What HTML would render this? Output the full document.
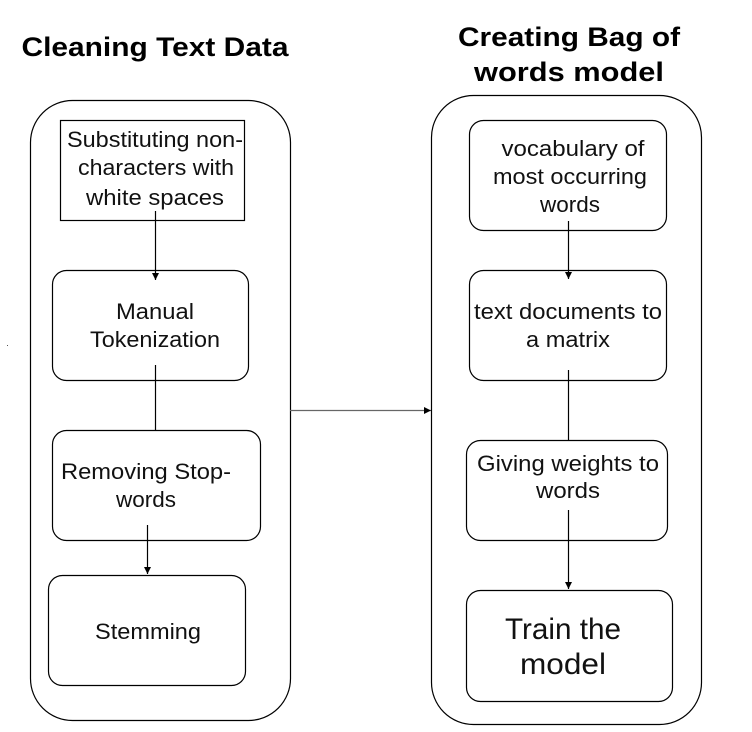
<!DOCTYPE html>
<html><head><style>body{margin:0;background:#fff} svg text{font-family:"Liberation Sans",Arial,sans-serif}</style></head><body>
<svg width="752" height="727" xmlns="http://www.w3.org/2000/svg">
<defs><marker id="a" markerWidth="8" markerHeight="8" refX="7" refY="4" orient="auto" markerUnits="userSpaceOnUse"><path d="M0,0.5 L7,4 L0,7.5 Z" fill="#000"/></marker></defs>
<rect width="752" height="727" fill="#fff"/>
<text x="155" y="56" font-size="27" font-weight="bold" text-anchor="middle" textLength="267" lengthAdjust="spacingAndGlyphs">Cleaning Text Data</text>
<text x="569" y="46" font-size="27" font-weight="bold" text-anchor="middle" textLength="222" lengthAdjust="spacingAndGlyphs">Creating Bag of</text>
<text x="569" y="81" font-size="27" font-weight="bold" text-anchor="middle" textLength="190" lengthAdjust="spacingAndGlyphs">words model</text>
<g fill="none" stroke="#000" stroke-width="1.2">
<rect x="30.5" y="100.5" width="260" height="620" rx="42"/>
<rect x="431.5" y="95.5" width="270" height="629" rx="42"/>
<rect x="60.5" y="120.5" width="184" height="100"/>
<rect x="52.5" y="270.5" width="196" height="110" rx="14"/>
<rect x="52.5" y="430.5" width="208" height="110" rx="14"/>
<rect x="48.5" y="575.5" width="197" height="110" rx="14"/>
<rect x="469.5" y="120.5" width="197" height="110" rx="14"/>
<rect x="469.5" y="270.5" width="197" height="110" rx="14"/>
<rect x="466.5" y="440.5" width="201" height="100" rx="14"/>
<rect x="466.5" y="590.5" width="206" height="111" rx="14"/>
<line x1="155.5" y1="211" x2="155.5" y2="280" marker-end="url(#a)"/>
<line x1="155.5" y1="365" x2="155.5" y2="430"/>
<line x1="147.5" y1="525" x2="147.5" y2="574" marker-end="url(#a)"/>
<line x1="568.5" y1="221" x2="568.5" y2="279" marker-end="url(#a)"/>
<line x1="568.5" y1="370" x2="568.5" y2="440"/>
<line x1="568.5" y1="510" x2="568.5" y2="589" marker-end="url(#a)"/>
<line x1="290" y1="410.5" x2="431" y2="410.5" stroke="#666" marker-end="url(#a)"/>
</g>
<g font-size="22" fill="#111" text-anchor="middle">
<text x="155" y="147" textLength="176" lengthAdjust="spacingAndGlyphs">Substituting non-</text>
<text x="156" y="175" textLength="156" lengthAdjust="spacingAndGlyphs">characters with</text>
<text x="155" y="205" textLength="138" lengthAdjust="spacingAndGlyphs">white spaces</text>
<text x="155" y="319" textLength="78" lengthAdjust="spacingAndGlyphs">Manual</text>
<text x="155" y="347" textLength="130" lengthAdjust="spacingAndGlyphs">Tokenization</text>
<text x="146" y="479" textLength="170" lengthAdjust="spacingAndGlyphs">Removing Stop-</text>
<text x="146" y="507" textLength="60" lengthAdjust="spacingAndGlyphs">words</text>
<text x="148" y="639" textLength="106" lengthAdjust="spacingAndGlyphs">Stemming</text>
<text x="573" y="156" textLength="143" lengthAdjust="spacingAndGlyphs">vocabulary of</text>
<text x="570" y="184" textLength="154" lengthAdjust="spacingAndGlyphs">most occurring</text>
<text x="570" y="212" textLength="60" lengthAdjust="spacingAndGlyphs">words</text>
<text x="568" y="319" textLength="188" lengthAdjust="spacingAndGlyphs">text documents to</text>
<text x="568" y="347" textLength="84" lengthAdjust="spacingAndGlyphs">a matrix</text>
<text x="568" y="471" textLength="182" lengthAdjust="spacingAndGlyphs">Giving weights to</text>
<text x="568" y="498" textLength="64" lengthAdjust="spacingAndGlyphs">words</text>
<text x="563" y="639" font-size="30" textLength="116" lengthAdjust="spacingAndGlyphs">Train the</text>
<text x="563" y="674" font-size="30" textLength="86" lengthAdjust="spacingAndGlyphs">model</text>
</g>
<rect x="7" y="345" width="1" height="1" fill="#555"/>
</svg>
</body></html>
